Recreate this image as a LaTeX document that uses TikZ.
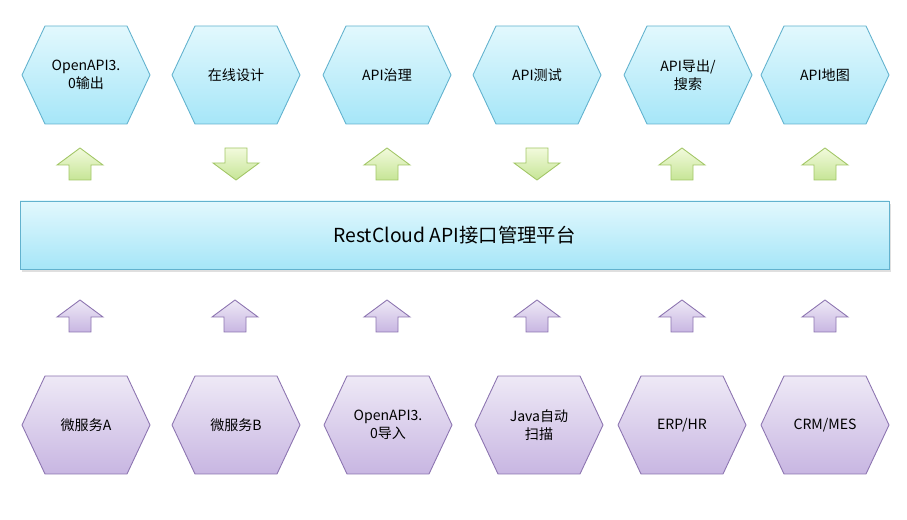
\documentclass[tikz,border=0pt]{standalone}
\usepackage{fontspec}
\setmainfont{Carlito}
\newfontfamily\cjk{Noto Sans CJK SC}
\usetikzlibrary{positioning, shadows}
\definecolor{skytop}{HTML}{E2F8FD}
\definecolor{skybot}{HTML}{A6E6F8}
\definecolor{skyline}{HTML}{62B2CE}
\definecolor{lilactop}{HTML}{EEE9F6}
\definecolor{lilacbot}{HTML}{C8B6E2}
\definecolor{lilacline}{HTML}{8C74B0}
\definecolor{limetop}{HTML}{F2FADC}
\definecolor{limebot}{HTML}{C6E596}
\definecolor{limeline}{HTML}{A2C666}

\begin{document}
\begin{tikzpicture}[x=0.02cm, y=-0.02cm,
    hexlabel/.style={font=\fontsize{8}{10}\selectfont\cjk, align=center, text=black},
    skyfill/.style={top color=skytop, bottom color=skybot, draw=skyline, line width=0.5pt},
    lilacfill/.style={top color=lilactop, bottom color=lilacbot, draw=lilacline, line width=0.5pt},
    limefill/.style={top color=limetop, bottom color=limebot, draw=limeline, line width=0.5pt}]
    \useasboundingbox (0,0) rectangle (907,520);
    % Hexagon with centre (#1,#2)
    \def\hexa#1#2#3{\path[#3] (#1-64,#2) -- (#1-41,#2-49) -- (#1+41,#2-49) -- (#1+64,#2) -- (#1+41,#2+49) -- (#1-41,#2+49) -- cycle;}
    % Block arrows, up and down
    \def\uparr#1#2#3{\path[#3] (#1-11,#2+16) -- (#1-11,#2+1) -- (#1-23,#2+1) -- (#1,#2-16) -- (#1+23,#2+1) -- (#1+11,#2+1) -- (#1+11,#2+16) -- cycle;}
    \def\downarr#1#2#3{\path[#3] (#1-11,#2-16) -- (#1-11,#2-1) -- (#1-23,#2-1) -- (#1,#2+16) -- (#1+23,#2-1) -- (#1+11,#2-1) -- (#1+11,#2-16) -- cycle;}
    % Top row: outputs
    \foreach \cx/\name/\txt in {86/out/{OpenAPI3.\\0输出}, 236/design/在线设计, 387/govern/API治理, 537/test/API测试, 688/export/{API导出/\\搜索}, 825/map/API地图} {
        \hexa{\cx}{75}{skyfill}
        \node[hexlabel] (\name) at (\cx,75) {\txt};
    }
    % Arrows between row and platform
    \foreach \cx in {80,387,682,825} {\uparr{\cx}{164}{limefill}}
    \foreach \cx in {236,537} {\downarr{\cx}{164}{limefill}}
    \foreach \cx in {80,235,387,537,682,825} {\uparr{\cx}{316}{lilacfill}}
    % Platform bar
    \path[skyfill, drop shadow={opacity=0.25, shadow xshift=1pt, shadow yshift=-1.5pt}] (20,201) rectangle (889,269);
    \node[font=\fontsize{11}{13}\selectfont\cjk] (platform) at (454.5,235) {RestCloud API接口管理平台};
    % Bottom row: sources
    \foreach \cx/\name/\txt in {86/msa/微服务A, 236/msb/微服务B, 388/imp/{OpenAPI3.\\0导入}, 539/scan/{Java自动\\扫描}, 682/erp/{ERP/HR}, 825/crm/{CRM/MES}} {
        \hexa{\cx}{425}{lilacfill}
        \node[hexlabel] (\name) at (\cx,425) {\txt};
    }
\end{tikzpicture}
\end{document}
